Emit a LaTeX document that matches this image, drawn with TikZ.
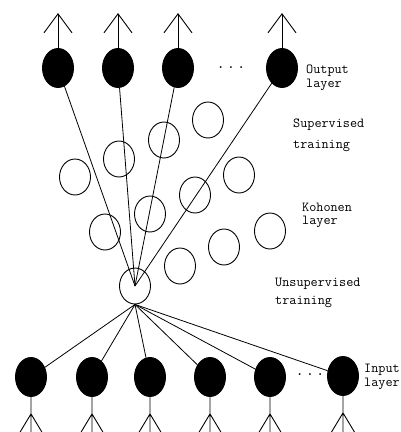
\documentclass[tikz,border=0pt]{standalone}
\usepackage{fontspec}
\usepackage{tikz}
\usetikzlibrary{arrows.meta,shapes.geometric}
\tikzset{
    neuron/.style={
        draw,
        ellipse,
        line width=0.9pt,
        inner sep=0pt,
        minimum width=31pt,
        minimum height=39pt
    },
    filledunit/.style={
        neuron,
        fill=black
    },
    kohonen/.style={
        neuron,
        minimum height=36pt
    },
    link/.style={
        line width=0.8pt
    },
    outarrow/.style={
        line width=0.9pt,
        -{Straight Barb[length=19pt,width=28pt]}
    },
    foot/.style={
        line width=0.9pt
    },
    layertext/.style={
        anchor=west,
        align=left,
        inner sep=0pt,
        font=\ttfamily\fontsize{13.8}{14.5}\selectfont
    },
    dotstext/.style={
        inner sep=0pt,
        font=\ttfamily\bfseries\fontsize{13.8}{14.5}\selectfont
    }
}

\begin{document}
\begin{tikzpicture}[x=1pt,y=-1pt]
    \useasboundingbox (0,0) rectangle (400,432);

    % output layer
    \node[filledunit] (out1) at (58,68) {};
    \node[filledunit] (out2) at (118,68) {};
    \node[filledunit] (out3) at (178,68) {};
    \node[filledunit] (out4) at (282,68) {};
    \node[dotstext] (outdots) at (231,68) {.\hspace{3pt}.\hspace{3pt}.};

    % kohonen layer
    \node[kohonen] (koh1) at (75,177) {};
    \node[kohonen] (koh2) at (119,159) {};
    \node[kohonen] (koh3) at (164,140) {};
    \node[kohonen] (koh4) at (208,120) {};
    \node[kohonen] (koh5) at (239,175) {};
    \node[kohonen] (koh6) at (195,195) {};
    \node[kohonen] (koh7) at (150,214) {};
    \node[kohonen] (koh8) at (105,232) {};
    \node[kohonen] (koh9) at (270,231) {};
    \node[kohonen] (koh10) at (224,247) {};
    \node[kohonen] (koh11) at (180,266) {};
    \node[kohonen] (winner) at (135,286) {};

    % input layer
    \node[filledunit] (in1) at (31,377) {};
    \node[filledunit] (in2) at (92,377) {};
    \node[filledunit] (in3) at (150,377) {};
    \node[filledunit] (in4) at (210,377) {};
    \node[filledunit] (in5) at (270,377) {};
    \node[filledunit] (in6) at (343,376) {};
    \node[dotstext] (indots) at (310,375) {.\hspace{3pt}.\hspace{3pt}.};

    % labels
    \node[layertext] (outlabel) at (306,78) {Output\\layer};
    \node[layertext] (suplabel) at (293,135) {Supervised\\[6.5pt]training};
    \node[layertext] (kohlabel) at (302,215) {Kohonen\\[-1.5pt]layer};
    \node[layertext] (unsuplabel) at (275,293) {Unsupervised\\[3.5pt]training};
    \node[layertext] (inlabel) at (364,377) {Input\\layer};

    % outputs
    \draw[outarrow] (out1.north) -- ++(0,-35);
    \draw[outarrow] (out2.north) -- ++(0,-35);
    \draw[outarrow] (out3.north) -- ++(0,-35);
    \draw[outarrow] (out4.north) -- ++(0,-35);

    % supervised links
    \draw[link] (out1) -- (winner.center);
    \draw[link] (out2) -- (winner.center);
    \draw[link] (out3) -- (winner.center);
    \draw[link] (out4) -- (winner.center);

    % unsupervised links
    \draw[link] (winner.south) -- (in1);
    \draw[link] (winner.south) -- (in2);
    \draw[link] (winner.south) -- (in3);
    \draw[link] (winner.south) -- (in4);
    \draw[link] (winner.south) -- (in5);
    \draw[link] (winner.south) -- (in6);

    % inputs
    \draw[foot] (in1.south) -- ++(0,40) ++(0,-23) -- ++(-12,20) ++(12,-20) -- ++(12,20);
    \draw[foot] (in2.south) -- ++(0,40) ++(0,-23) -- ++(-12,20) ++(12,-20) -- ++(12,20);
    \draw[foot] (in3.south) -- ++(0,40) ++(0,-23) -- ++(-12,20) ++(12,-20) -- ++(12,20);
    \draw[foot] (in4.south) -- ++(0,40) ++(0,-23) -- ++(-12,20) ++(12,-20) -- ++(12,20);
    \draw[foot] (in5.south) -- ++(0,40) ++(0,-23) -- ++(-12,20) ++(12,-20) -- ++(12,20);
    \draw[foot] (in6.south) -- ++(0,40) ++(0,-23) -- ++(-12,20) ++(12,-20) -- ++(12,20);
\end{tikzpicture}
\end{document}
